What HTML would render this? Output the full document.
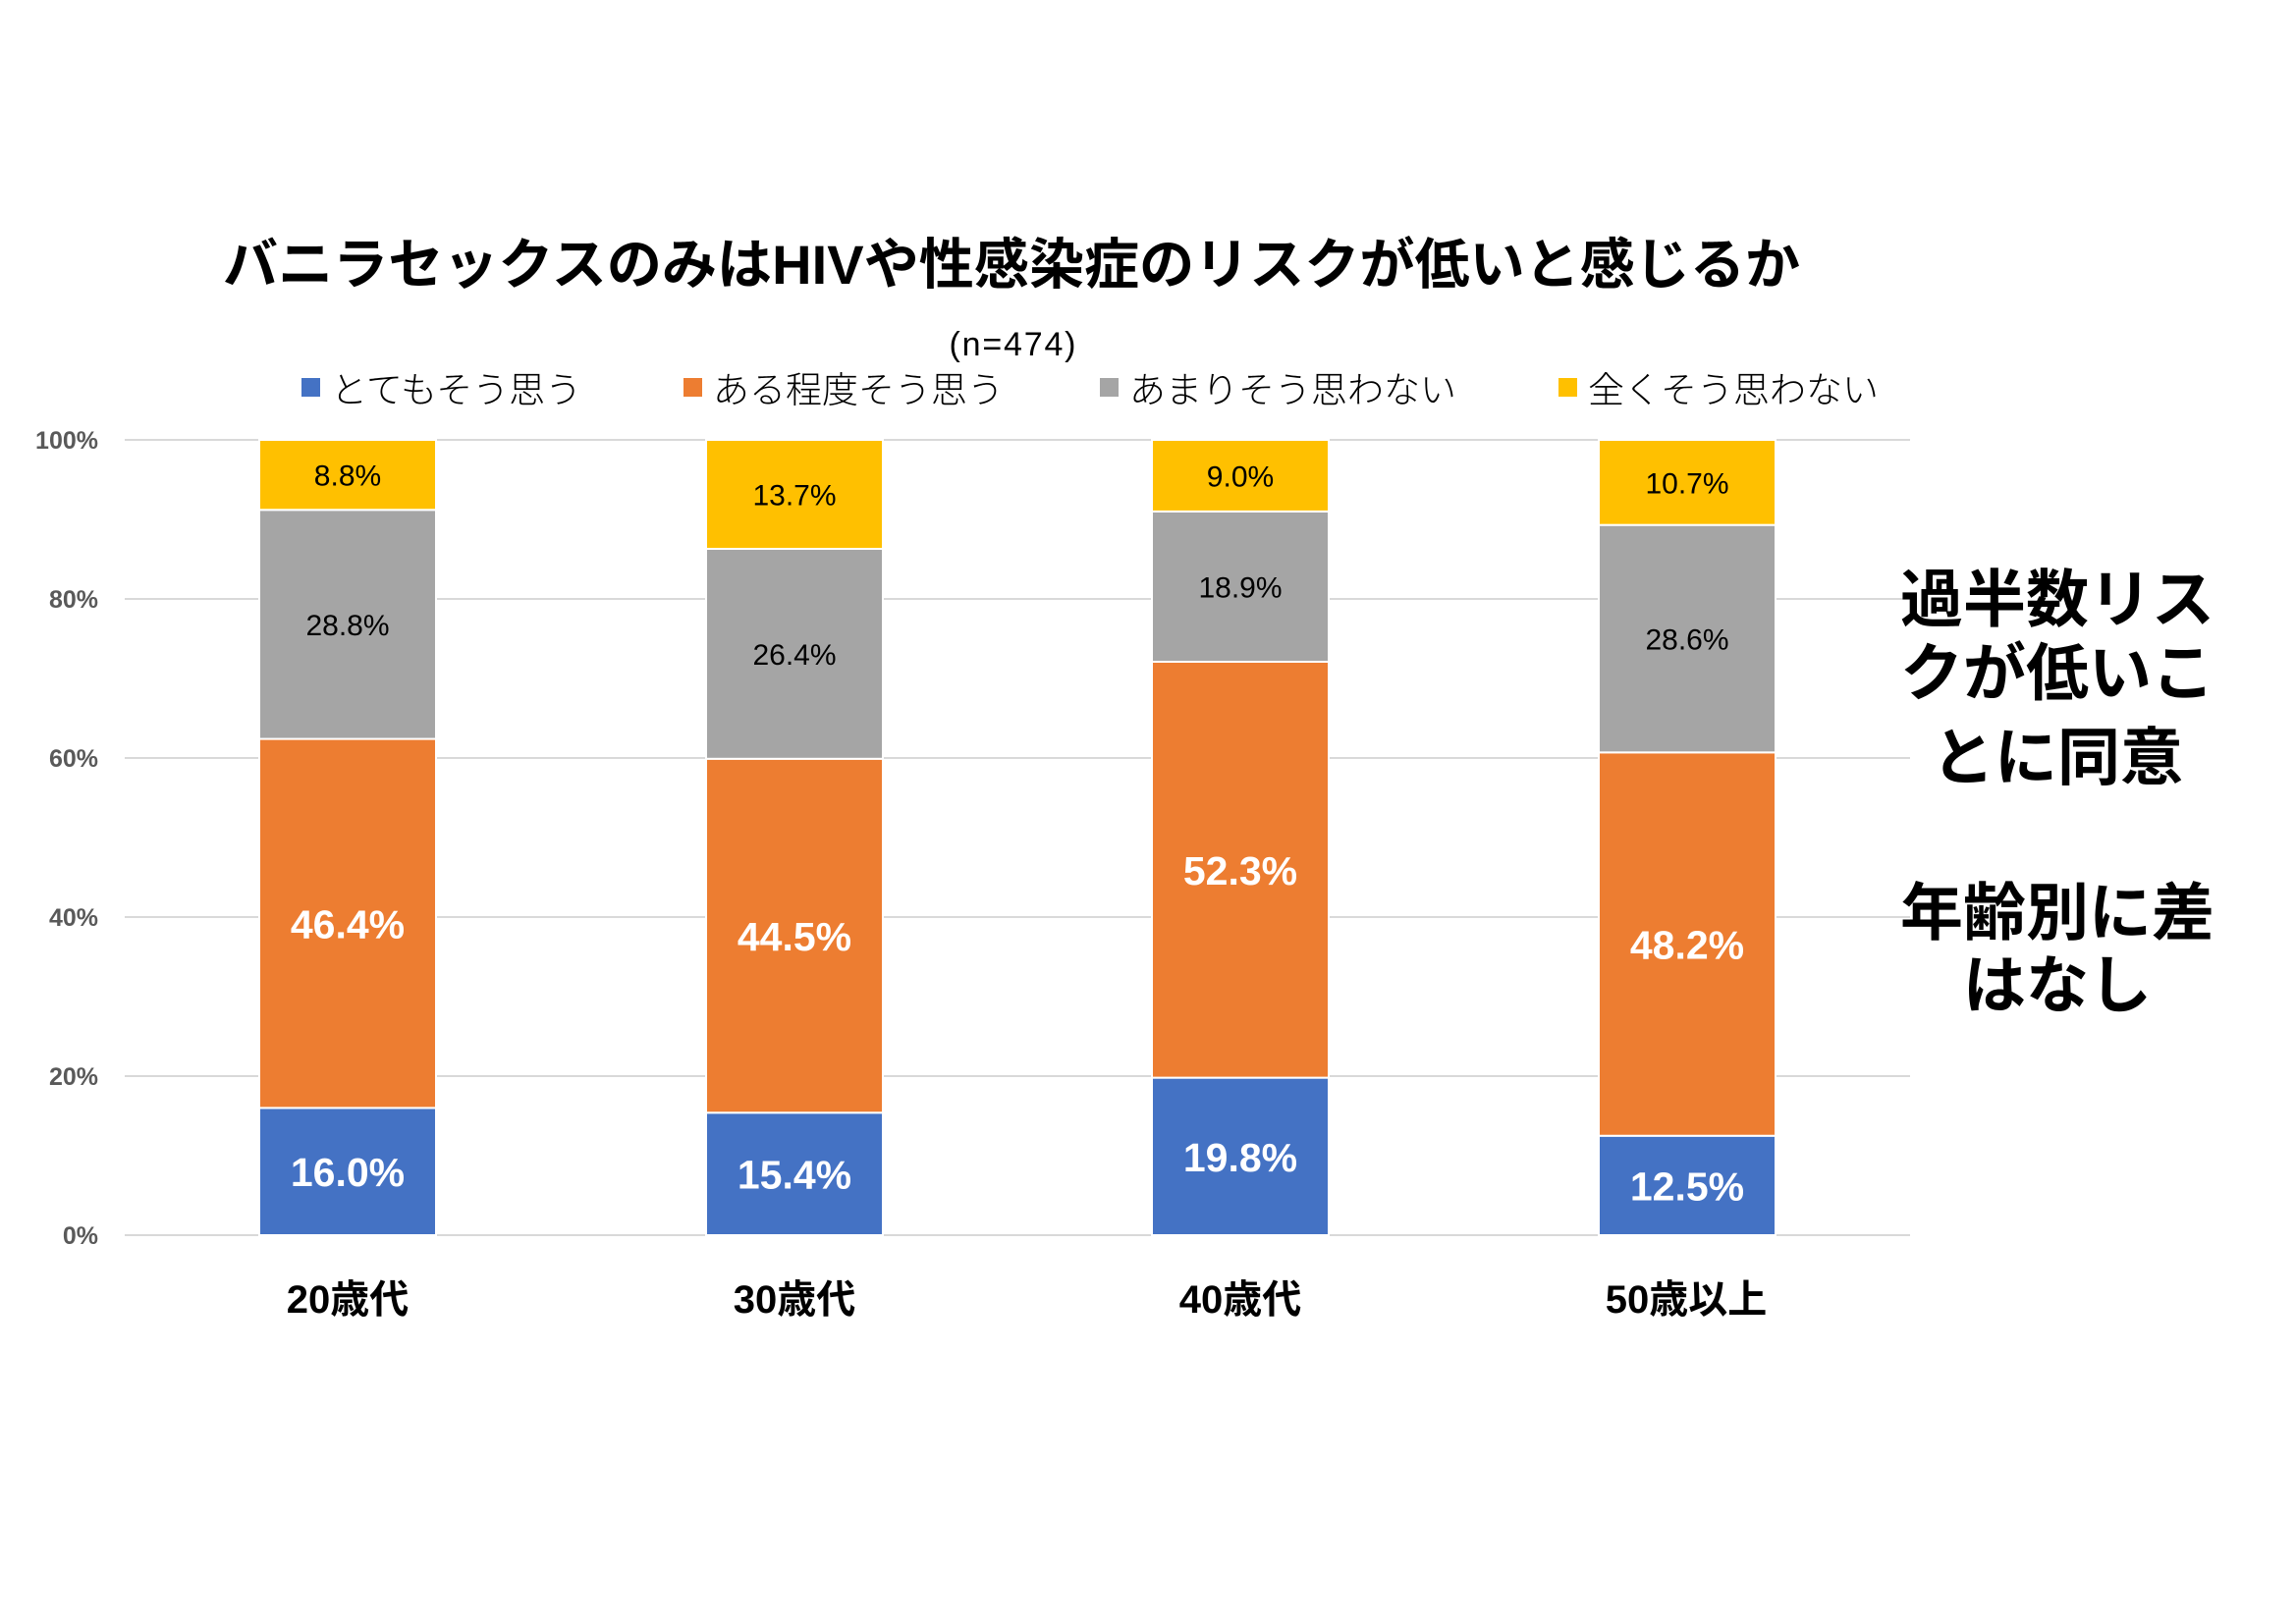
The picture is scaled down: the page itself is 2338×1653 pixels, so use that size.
<!DOCTYPE html>
<html>
<head>
<meta charset="utf-8">
<style>
  html, body { margin: 0; padding: 0; background: #ffffff; }
  body { width: 2338px; height: 1653px; overflow: hidden; }
  svg { display: block; }
  .jp { font-family: "Liberation Sans", "Noto Sans CJK JP", sans-serif; }
  .lat { font-family: "Liberation Sans", sans-serif; }
</style>
</head>
<body>
<svg width="2338" height="1653" viewBox="0 0 2338 1653" xmlns="http://www.w3.org/2000/svg">
  <rect x="0" y="0" width="2338" height="1653" fill="#ffffff"/>

  <!-- Title -->
  <text class="jp" x="227" y="289" font-size="56" font-weight="700" fill="#000000" textLength="1606" lengthAdjust="spacing">バニラセックスのみはHIVや性感染症のリスクが低いと感じるか</text>

  <!-- n -->
  <text class="lat" x="1031" y="362" font-size="34" fill="#000000" text-anchor="middle" textLength="129" lengthAdjust="spacing">(n=474)</text>

  <!-- Legend -->
  <g class="jp" font-size="37" font-weight="300" fill="#000000">
    <rect x="307" y="385" width="19" height="19" fill="#4472C4"/>
    <text x="337" y="410">とてもそう思う</text>
    <rect x="696" y="385" width="19" height="19" fill="#ED7D31"/>
    <text x="726" y="410">ある程度そう思う</text>
    <rect x="1120" y="385" width="19" height="19" fill="#A5A5A5"/>
    <text x="1150" y="410">あまりそう思わない</text>
    <rect x="1587" y="385" width="19" height="19" fill="#FFC000"/>
    <text x="1617" y="410">全くそう思わない</text>
  </g>

  <!-- Gridlines -->
  <g stroke="#D9D9D9" stroke-width="2">
    <line x1="127" y1="448" x2="1945" y2="448"/>
    <line x1="127" y1="610" x2="1945" y2="610"/>
    <line x1="127" y1="772" x2="1945" y2="772"/>
    <line x1="127" y1="934" x2="1945" y2="934"/>
    <line x1="127" y1="1096" x2="1945" y2="1096"/>
    <line x1="127" y1="1258" x2="1945" y2="1258"/>
  </g>

  <!-- Y tick labels -->
  <g class="lat" font-size="25" font-weight="700" fill="#595959" text-anchor="end">
    <text x="100" y="457">100%</text>
    <text x="100" y="619">80%</text>
    <text x="100" y="781">60%</text>
    <text x="100" y="943">40%</text>
    <text x="100" y="1105">20%</text>
    <text x="100" y="1267">0%</text>
  </g>

  <!-- Bars -->
  <g stroke="#ffffff" stroke-width="2">
    <!-- Bar 1 -->
    <rect x="264" y="1128.4" width="180" height="129.6" fill="#4472C4"/>
    <rect x="264" y="752.56" width="180" height="375.84" fill="#ED7D31"/>
    <rect x="264" y="519.28" width="180" height="233.28" fill="#A5A5A5"/>
    <rect x="264" y="448" width="180" height="71.28" fill="#FFC000"/>
    <!-- Bar 2 -->
    <rect x="719" y="1133.26" width="180" height="124.74" fill="#4472C4"/>
    <rect x="719" y="772.81" width="180" height="360.45" fill="#ED7D31"/>
    <rect x="719" y="558.97" width="180" height="213.84" fill="#A5A5A5"/>
    <rect x="719" y="448" width="180" height="110.97" fill="#FFC000"/>
    <!-- Bar 3 -->
    <rect x="1173" y="1097.62" width="180" height="160.38" fill="#4472C4"/>
    <rect x="1173" y="673.99" width="180" height="423.63" fill="#ED7D31"/>
    <rect x="1173" y="520.9" width="180" height="153.09" fill="#A5A5A5"/>
    <rect x="1173" y="448" width="180" height="72.9" fill="#FFC000"/>
    <!-- Bar 4 -->
    <rect x="1628" y="1156.75" width="180" height="101.25" fill="#4472C4"/>
    <rect x="1628" y="766.33" width="180" height="390.42" fill="#ED7D31"/>
    <rect x="1628" y="534.67" width="180" height="231.66" fill="#A5A5A5"/>
    <rect x="1628" y="448" width="180" height="86.67" fill="#FFC000"/>
  </g>

  <!-- Large data labels (white bold) -->
  <g class="lat" font-size="41" font-weight="700" fill="#ffffff" text-anchor="middle">
    <text x="354" y="1208">16.0%</text>
    <text x="354" y="955.5">46.4%</text>
    <text x="809" y="1210.6">15.4%</text>
    <text x="809" y="968">44.5%</text>
    <text x="1263" y="1192.8">19.8%</text>
    <text x="1263" y="900.8">52.3%</text>
    <text x="1718" y="1222.4">12.5%</text>
    <text x="1718" y="976.5">48.2%</text>
  </g>

  <!-- Small data labels (black) -->
  <g class="lat" font-size="30" fill="#000000" text-anchor="middle">
    <text x="354" y="647">28.8%</text>
    <text x="354" y="494.6">8.8%</text>
    <text x="809" y="677">26.4%</text>
    <text x="809" y="514.5">13.7%</text>
    <text x="1263" y="608.4">18.9%</text>
    <text x="1263" y="495.5">9.0%</text>
    <text x="1718" y="661.5">28.6%</text>
    <text x="1718" y="502.3">10.7%</text>
  </g>

  <!-- Category labels -->
  <g class="jp" font-size="40" font-weight="700" fill="#000000" text-anchor="middle">
    <text x="354" y="1337">20歳代</text>
    <text x="809" y="1337">30歳代</text>
    <text x="1263" y="1337">40歳代</text>
    <text x="1717" y="1337">50歳以上</text>
  </g>

  <!-- Right annotation -->
  <g class="jp" font-size="64" font-weight="700" fill="#000000" text-anchor="middle">
    <text x="2095" y="633">過半数リス</text>
    <text x="2095" y="708">クが低いこ</text>
    <text x="2095" y="794">とに同意</text>
    <text x="2095" y="952">年齢別に差</text>
    <text x="2095" y="1026">はなし</text>
  </g>
</svg>
</body>
</html>
